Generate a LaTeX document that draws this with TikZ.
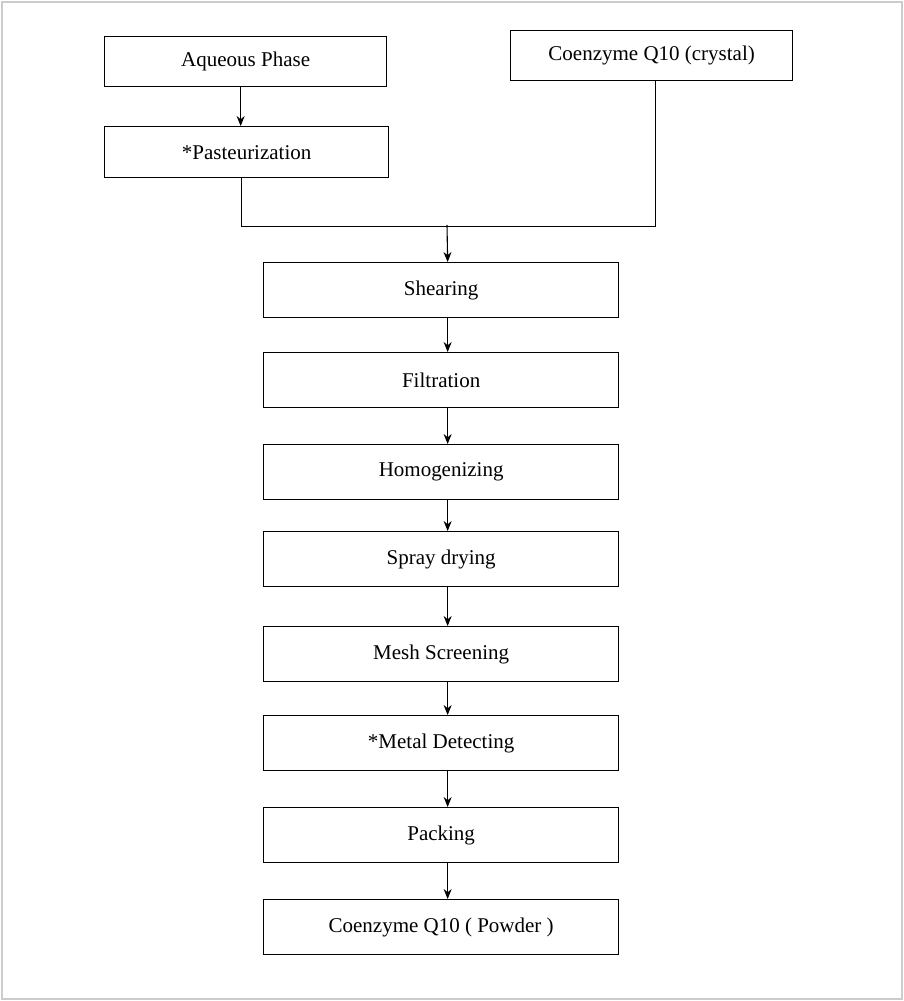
\documentclass[tikz,border=0pt]{standalone}
\usepackage{fontspec}
\setmainfont{Liberation Serif}
\usetikzlibrary{calc,arrows.meta}
\begin{document}
\begin{tikzpicture}[x=1pt,y=-1pt,
  box/.style={draw,line width=1.3pt,anchor=north west,font=\fontsize{21}{24}\selectfont,inner sep=0pt},
  arr/.style={-{Stealth[length=10pt,width=8pt]},line width=1.1pt},
  ln/.style={line width=1.2pt}]
\useasboundingbox (0,0) rectangle (904,1001);
\draw[gray!40,line width=1.5pt] (2,2) rectangle (902,999);
\node[box,minimum width=282pt,minimum height=50pt] (aq) at (104,36) {Aqueous Phase};
\node[box,minimum width=284pt,minimum height=51pt] (past) at (104,126) {*Pasteurization};
\node[box,minimum width=282pt,minimum height=50pt] (cq) at (510,30) {Coenzyme Q10 (crystal)};
\foreach \n/\y/\t in {shear/262/Shearing,filt/352/Filtration,homo/444/Homogenizing,spray/531/Spray drying,mesh/626/Mesh Screening,metal/715/*Metal Detecting,pack/807/Packing,pow/899/Coenzyme Q10 ( Powder )}
  \node[box,minimum width=355pt,minimum height=55pt] (\n) at (263,\y) {\t};
\draw[arr] ($(aq.south)+(-5,0)$) -- ($(past.north)+(-6,0)$);
\coordinate (jl) at ($(past.south)+(-5,48)$);
\coordinate (jr) at ($(cq.south)+(4,145)$);
\draw[ln] ($(past.south)+(-5,0)$) -- (jl) -- (jr) -- ($(cq.south)+(4,0)$);
\coordinate (jm) at (447,225);
\draw[arr] (jm) -- ($(shear.north)+(6.5,0)$);
\foreach \a/\b in {shear/filt,filt/homo,homo/spray,spray/mesh,mesh/metal,metal/pack,pack/pow}
  \draw[arr] ($(\a.south)+(6.5,0)$) -- ($(\b.north)+(6.5,0)$);
\end{tikzpicture}
\end{document}
